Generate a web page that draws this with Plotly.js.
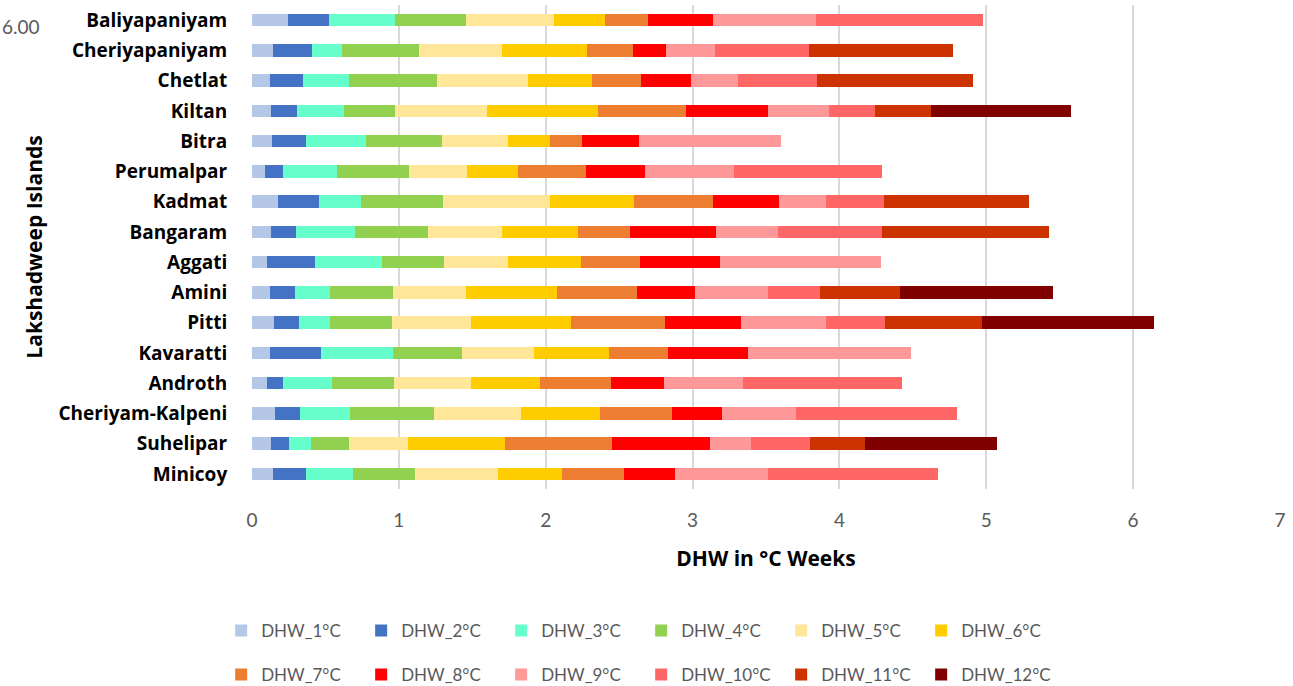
<!DOCTYPE html>
<html>
<head>
<meta charset="utf-8">
<script src="https://cdn.plot.ly/plotly-3.0.1.min.js"></script>
<style>html,body{margin:0;padding:0;background:#fff;}#chart{width:1293px;height:686px;}</style>
</head>
<body>
<div id="chart"></div>
<script>
const islands = ["Baliyapaniyam","Cheriyapaniyam","Chetlat","Kiltan","Bitra","Perumalpar","Kadmat","Bangaram","Aggati","Amini","Pitti","Kavaratti","Androth","Cheriyam-Kalpeni","Suhelipar","Minicoy"];
const seriesNames = ["DHW_1°C","DHW_2°C","DHW_3°C","DHW_4°C","DHW_5°C","DHW_6°C","DHW_7°C","DHW_8°C","DHW_9°C","DHW_10°C","DHW_11°C","DHW_12°C"];
// values per island, in series order 1..12 °C
const baliyapaniyam   = [0.245,0.278,0.449,0.482,0.604,0.347,0.293,0.441,0.704,1.134,0,0];
const cheriyapaniyam  = [0.141,0.268,0.202,0.527,0.563,0.579,0.312,0.227,0.334,0.640,0.977,0];
const chetlat         = [0.121,0.227,0.313,0.600,0.615,0.439,0.333,0.341,0.320,0.538,1.061,0];
const kiltan          = [0.132,0.175,0.318,0.347,0.625,0.760,0.598,0.559,0.417,0.310,0.381,0.954];
const bitra           = [0.136,0.235,0.404,0.518,0.449,0.286,0.218,0.387,0.969,0,0,0];
const perumalpar      = [0.091,0.118,0.370,0.489,0.393,0.349,0.462,0.406,0.604,1.008,0,0];
const kadmat          = [0.180,0.279,0.280,0.560,0.732,0.570,0.538,0.450,0.320,0.393,0.988,0];
const bangaram        = [0.132,0.166,0.402,0.497,0.504,0.518,0.354,0.586,0.421,0.710,1.140,0];
const aggati          = [0.105,0.322,0.457,0.422,0.438,0.493,0.407,0.541,1.099,0,0,0];
const amini           = [0.123,0.168,0.243,0.427,0.495,0.620,0.545,0.397,0.496,0.352,0.545,1.045];
const pitti           = [0.150,0.168,0.211,0.421,0.540,0.682,0.640,0.518,0.579,0.402,0.661,1.167];
const kavaratti       = [0.121,0.347,0.491,0.470,0.492,0.509,0.402,0.545,1.111,0,0,0];
const androth         = [0.100,0.109,0.334,0.425,0.522,0.470,0.482,0.365,0.536,1.086,0,0];
const cheriyamKalpeni = [0.159,0.168,0.343,0.568,0.593,0.540,0.491,0.338,0.504,1.097,0,0];
const suhelipar       = [0.132,0.118,0.150,0.259,0.402,0.661,0.729,0.668,0.281,0.400,0.372,0.900];
const minicoy         = [0.141,0.227,0.323,0.418,0.563,0.438,0.420,0.350,0.634,1.156,0,0];
const xTicks = [0,1,2,3,4,5,6,7];

const rows = [baliyapaniyam,cheriyapaniyam,chetlat,kiltan,bitra,perumalpar,kadmat,bangaram,aggati,amini,pitti,kavaratti,androth,cheriyamKalpeni,suhelipar,minicoy];
const colors = ["#b4c7e7","#4472c4","#66ffcc","#92d050","#ffe699","#ffcc00","#ed7d31","#ff0000","#ff9999","#ff6666","#cc3300","#800000"];

const traces = seriesNames.map((name, s) => ({
  type: 'bar',
  orientation: 'h',
  name: name,
  y: islands,
  x: rows.map(r => r[s]),
  marker: {color: colors[s], line: {width: 0}},
  legend: s < 6 ? 'legend' : 'legend2',
  hoverinfo: 'x+y+name'
}));

const legendFont = {family: 'Lato, "Open Sans", sans-serif', size: 17, color: '#595959'};
const boldFont = '"Open Sans", Lato, sans-serif';
const layout = {
  width: 1293, height: 686,
  margin: {l: 252, r: 13, t: 5, b: 197, autoexpand: false},
  paper_bgcolor: '#fff', plot_bgcolor: '#fff',
  barmode: 'stack',
  bargap: 0.58,
  showlegend: true,
  xaxis: {
    range: [0, 7], tickvals: xTicks, ticktext: xTicks.map(String),
    showgrid: true, gridcolor: '#d9d9d9', gridwidth: 1.5,
    zeroline: false, showline: false,
    ticks: 'outside', ticklen: 14, tickcolor: 'rgba(0,0,0,0)',
    tickfont: {family: 'Lato, "Open Sans", sans-serif', size: 19, color: '#595959'},
    title: {text: 'DHW in °C Weeks', font: {family: boldFont, size: 21, color: '#000', weight: 'bold'}, standoff: 21},
    automargin: false,
    fixedrange: true
  },
  yaxis: {
    type: 'category', categoryorder: 'array', categoryarray: islands,
    autorange: 'reversed',
    showgrid: false, zeroline: false, showline: false,
    ticks: 'outside', ticklen: 20, tickcolor: 'rgba(0,0,0,0)',
    tickfont: {family: boldFont, size: 19, color: '#000', weight: 'bold'},
    title: {text: 'Lakshadweep Islands', font: {family: boldFont, size: 21, color: '#000', weight: 'bold'}, standoff: 10},
    automargin: false,
    fixedrange: true
  },
  legend: {
    orientation: 'h', x: -0.030, xanchor: 'left', y: -0.2934, yanchor: 'middle',
    entrywidth: 95, entrywidthmode: 'pixels', itemwidth: 30,
    font: legendFont, traceorder: 'normal', itemclick: false, itemdoubleclick: false
  },
  legend2: {
    orientation: 'h', x: -0.030, xanchor: 'left', y: -0.384, yanchor: 'middle',
    entrywidth: 95, entrywidthmode: 'pixels', itemwidth: 30,
    font: legendFont, traceorder: 'normal', itemclick: false, itemdoubleclick: false
  },
  annotations: [{
    text: '6.00', xref: 'paper', yref: 'paper', x: -252/1028, xanchor: 'left',
    y: 1 - 22/484, yanchor: 'middle', showarrow: false,
    font: {family: 'Lato, "Open Sans", sans-serif', size: 19, color: '#595959'}
  }]
};

Plotly.newPlot('chart', traces, layout, {displayModeBar: false});
</script>
</body>
</html>
